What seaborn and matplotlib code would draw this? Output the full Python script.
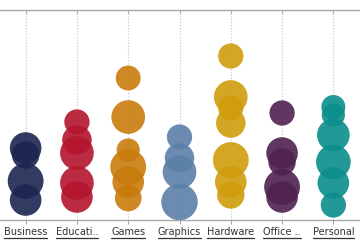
import matplotlib
matplotlib.use("Agg")
import matplotlib.pyplot as plt
from matplotlib.lines import Line2D
import seaborn as sns
import pandas as pd
import numpy as np

categories = ["Business", "Education", "Games", "Graphics", "Hardware", "Office", "Personal"]
tick_labels = ["Business", "Educati..", "Games", "Graphics", "Hardware", "Office ..", "Personal"]
colors = ["#1c2550", "#b4152d", "#c97b0c", "#5b80a8", "#cf9d0c", "#4f2150", "#0b8e8c"]

business_y = [72, 65, 39, 20]
business_amt = [225, 170, 289, 225]
education_y = [98, 80, 67, 37, 23]
education_amt = [144, 196, 256, 256, 225]
games_y = [142, 103, 70, 53, 38, 22]
games_amt = [140, 256, 121, 289, 225, 160]
graphics_y = [83, 62, 48, 18]
graphics_amt = [144, 196, 256, 300]
hardware_y = [164, 123, 112, 97, 60, 38, 25]
hardware_amt = [144, 256, 144, 196, 289, 225, 169]
office_y = [107, 67, 58, 33, 23]
office_amt = [144, 225, 169, 289, 225]
personal_y = [113, 105, 85, 58, 37, 15]
personal_amt = [130, 121, 240, 270, 225, 144]

ys = [business_y, education_y, games_y, graphics_y, hardware_y, office_y, personal_y]
amts = [business_amt, education_amt, games_amt, graphics_amt, hardware_amt, office_amt, personal_amt]

rows = []
for c, yl, al in zip(categories, ys, amts):
    for y, a in zip(yl, al):
        rows.append({"category": c, "value": y, "amount": a})
df = pd.DataFrame(rows)

sns.set_style("white")
fig = plt.figure(figsize=(3.6, 2.5), dpi=100)
ax = fig.add_axes([0, 0.12, 359 / 360, 0.84])

ax.grid(axis="x", linestyle=":", color="#c4c4c4", linewidth=0.8, zorder=0)
ax.set_axisbelow(True)

sns.scatterplot(data=df, x="category", y="value", hue="category", palette=colors,
                hue_order=categories, size="amount", sizes=(0, 2.3 * 300),
                size_norm=(0, 300), alpha=0.9, linewidth=0, legend=False, ax=ax, zorder=3)

ax.set_xlim(-0.5, 6.5)
ax.set_ylim(0, 210)
ax.set_xticks(range(len(categories)))
ax.set_xticklabels(tick_labels, fontsize=7, color="#333333")
ax.set_yticks([])
ax.set_xlabel("")
ax.set_ylabel("")
for side in ["left", "right"]:
    ax.spines[side].set_visible(False)
for side in ["top", "bottom"]:
    ax.spines[side].set_visible(True)
    ax.spines[side].set_color("#a8a8a8")
    ax.spines[side].set_linewidth(1.0)
ax.tick_params(axis="x", bottom=True, direction="out", length=3, color="#a8a8a8", pad=2)

top = ax.secondary_xaxis("top")
top.set_xticks(range(len(categories)))
top.set_xticklabels([])
top.tick_params(direction="in", length=3, color="#a8a8a8")
top.spines["top"].set_visible(False)

fig.canvas.draw()
inv = fig.transFigure.inverted()
for lab in ax.get_xticklabels():
    bb = lab.get_window_extent()
    (x0, y0), (x1, _) = inv.transform([(bb.x0, bb.y0 - 1), (bb.x1, bb.y0)])
    fig.add_artist(Line2D([x0, x1], [y0, y0], color="#333333", linewidth=0.9))

fig.savefig("out.png", dpi=100)
